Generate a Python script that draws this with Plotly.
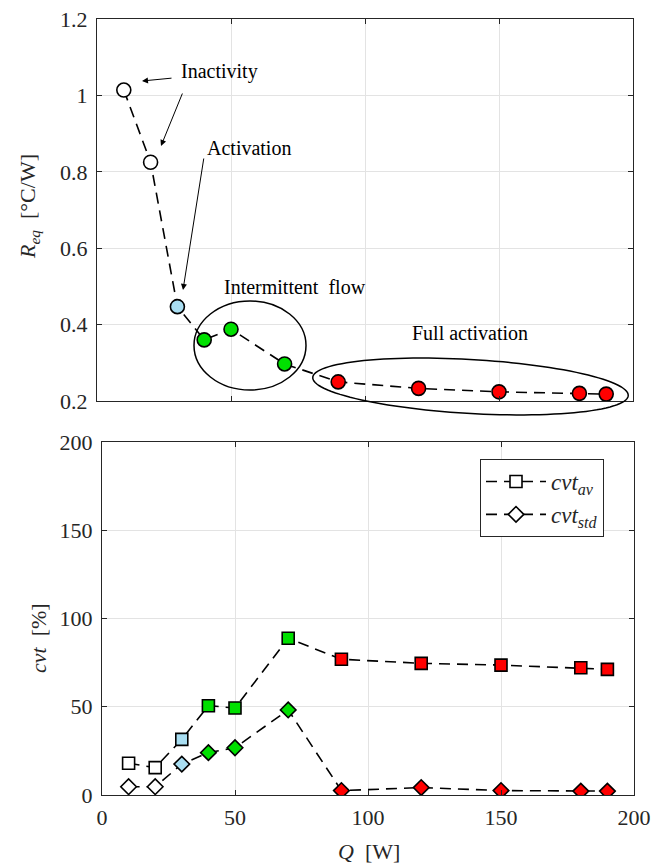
import numpy as np
import plotly.graph_objects as go

# ---------------- data ----------------
Q = [10, 20, 30, 40, 50, 70, 90, 120, 150, 180, 190]
R_eq = [1.014, 0.825, 0.447, 0.360, 0.388, 0.297, 0.250, 0.233, 0.224, 0.220, 0.218]
cvt_av = [18.0, 15.5, 31.5, 50.6, 49.3, 88.8, 76.9, 74.6, 73.6, 72.1, 71.2]
cvt_std = [4.7, 4.7, 17.5, 24.0, 26.8, 48.2, 2.5, 4.2, 2.5, 2.2, 2.2]
regime = ["inactive", "inactive", "activation", "intermittent", "intermittent",
          "intermittent", "full", "full", "full", "full", "full"]
regime_colors = {"inactive": "#ffffff", "activation": "#a9def2",
                 "intermittent": "#00e000", "full": "#ff0000"}
colors = [regime_colors[r] for r in regime]

x_ticks = [0, 50, 100, 150, 200]
top_y_ticks = [0.2, 0.4, 0.6, 0.8, 1.0, 1.2]
bot_y_ticks = [0, 50, 100, 150, 200]

W, H = 652, 867
FONT = "Liberation Serif"
TXT = "#262626"
AX = "#262626"
GRID = "#e3e3e3"


def px(x):
    return x / W


def py(y):
    return 1 - y / H


fig = go.Figure()

dash = "11px,7px"
fig.add_trace(go.Scatter(
    x=Q, y=R_eq, mode="lines+markers", xaxis="x", yaxis="y",
    line=dict(color="black", width=1.6, dash=dash),
    marker=dict(symbol="circle", size=14, color=colors, line=dict(color="black", width=1.6)),
    showlegend=False))

fig.add_trace(go.Scatter(
    x=Q, y=cvt_av, mode="lines+markers", xaxis="x2", yaxis="y2",
    name="<i>cvt</i><sub><i>av</i></sub>",
    line=dict(color="black", width=1.6, dash=dash),
    marker=dict(symbol="square", size=12, color=colors, line=dict(color="black", width=1.6))))

fig.add_trace(go.Scatter(
    x=Q, y=cvt_std, mode="lines+markers", xaxis="x2", yaxis="y2",
    name="<i>cvt</i><sub><i>std</i></sub>",
    line=dict(color="black", width=1.6, dash=dash),
    marker=dict(symbol="diamond", size=12, color=colors, line=dict(color="black", width=1.6))))

axis_common = dict(showline=True, linecolor=AX, linewidth=1, mirror="ticks",
                   ticks="inside", ticklen=5, tickcolor=AX, showgrid=True,
                   gridcolor=GRID, gridwidth=1, zeroline=False, automargin=False,
                   ticklabeloverflow="allow",
                   tickfont=dict(family=FONT, size=22, color=TXT))

fig.update_layout(
    width=W, height=H, margin=dict(l=0, r=0, t=0, b=0, autoexpand=False),
    paper_bgcolor="white", plot_bgcolor="white",
    xaxis=dict(domain=[px(97), px(633)], range=[0, 200], tickvals=x_ticks,
               showticklabels=False, anchor="y", **axis_common),
    yaxis=dict(domain=[py(401), py(19)], range=[0.2, 1.2], tickvals=top_y_ticks,
               ticktext=["0.2", "0.4", "0.6", "0.8", "1", "1.2"], anchor="x",
               ticklabelstandoff=4, **axis_common),
    xaxis2=dict(domain=[px(102), px(634)], range=[0, 200], tickvals=x_ticks,
                anchor="y2", ticklabelstandoff=3, **axis_common),
    yaxis2=dict(domain=[py(795), py(442)], range=[0, 200], tickvals=bot_y_ticks,
                anchor="x2", ticklabelstandoff=4, **axis_common),
    legend=dict(x=px(480), y=py(459), xanchor="left", yanchor="top",
                bgcolor="white", bordercolor=AX, borderwidth=1,
                font=dict(family=FONT, size=23, color=TXT),
                tracegroupgap=0, itemwidth=60),
    font=dict(family=FONT, color=TXT),
)

ann_font = dict(family=FONT, size=20, color="black")
annotations = [
    # axis titles
    dict(x=px(29), y=py(207), text="<i>R</i><sub><i>eq</i></sub>  [°C/W]", textangle=-90,
         xanchor="center", font=dict(family=FONT, size=22, color=TXT)),
    dict(x=px(38), y=py(638), text="<i>cvt</i>  [%]", textangle=-90,
         xanchor="center", font=dict(family=FONT, size=22, color=TXT)),
    dict(x=px(369), y=py(851), text="<i>Q</i>  [W]", xanchor="center",
         font=dict(family=FONT, size=22, color=TXT)),
    # region labels
    dict(x=px(179), y=py(72), text="Inactivity", xanchor="left", font=ann_font),
    dict(x=px(205), y=py(148), text="Activation", xanchor="left", font=ann_font),
    dict(x=px(222), y=py(287), text="Intermittent  flow", xanchor="left", font=ann_font),
    dict(x=px(410), y=py(333), text="Full activation", xanchor="left", font=ann_font),
]
for a in annotations:
    a.update(xref="paper", yref="paper", showarrow=False, yanchor="middle")

arrows = [
    ((142, 81), (173, 78)),
    ((161, 146), (183, 92)),
    ((183, 290), (204, 157)),
]
for (hx, hy), (tx, ty) in arrows:
    annotations.append(dict(x=px(hx), y=py(hy), xref="paper", yref="paper", text="",
                            showarrow=True, ax=tx - hx, ay=ty - hy, arrowhead=2,
                            arrowsize=1.2, arrowwidth=1, arrowcolor="black"))
fig.update_layout(annotations=annotations)

# ellipses (annotation outlines)
shapes = [dict(type="circle", xref="paper", yref="paper",
               x0=px(194), x1=px(306), y0=py(390), y1=py(301),
               line=dict(color="black", width=1.5))]

cx, cy, a_, b_, th = 470.5, 386.5, 158, 27, np.deg2rad(3.3)
t = np.linspace(0, 2 * np.pi, 120)
ex = cx + a_ * np.cos(t) * np.cos(th) - b_ * np.sin(t) * np.sin(th)
ey = cy + a_ * np.cos(t) * np.sin(th) + b_ * np.sin(t) * np.cos(th)
path = "M " + " L ".join(f"{px(x):.5f},{py(y):.5f}" for x, y in zip(ex, ey)) + " Z"
shapes.append(dict(type="path", xref="paper", yref="paper", path=path,
                   line=dict(color="black", width=1.5)))
fig.update_layout(shapes=shapes)

fig.write_html("out.html", config={"displayModeBar": False},
               post_script="document.body.style.margin='0';"
                           "document.body.style.overflow='hidden';")
